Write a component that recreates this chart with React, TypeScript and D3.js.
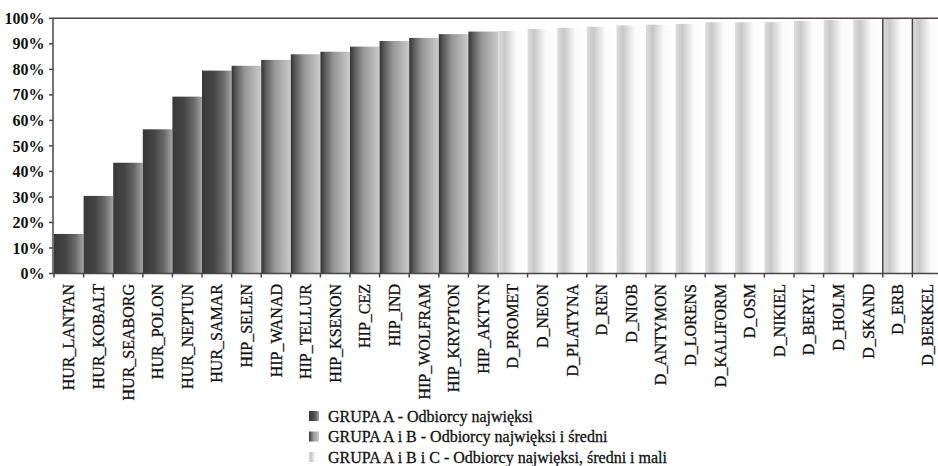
import React from 'react';
import * as d3 from 'd3';

const categories = [
  'HUR_LANTAN', 'HUR_KOBALT', 'HUR_SEABORG', 'HUR_POLON', 'HUR_NEPTUN', 'HUR_SAMAR',
  'HIP_SELEN', 'HIP_WANAD', 'HIP_TELLUR', 'HIP_KSENON', 'HIP_CEZ', 'HIP_IND',
  'HIP_WOLFRAM', 'HIP_KRYPTON', 'HIP_AKTYN',
  'D_PROMET', 'D_NEON', 'D_PLATYNA', 'D_REN', 'D_NIOB', 'D_ANTYMON', 'D_LORENS',
  'D_KALIFORM', 'D_OSM', 'D_NIKIEL', 'D_BERYL', 'D_HOLM', 'D_SKAND', 'D_ERB', 'D_BERKEL',
];

const values = [
  0.155, 0.304, 0.434, 0.565, 0.693, 0.795,
  0.814, 0.837, 0.859, 0.869, 0.889, 0.911,
  0.923, 0.938, 0.948,
  0.950, 0.958, 0.963, 0.967, 0.972, 0.975, 0.978,
  0.984, 0.984, 0.985, 0.990, 0.993, 0.995, 0.998, 1.0,
];

const groups = ['A', 'B', 'C'];
const prefixGroup: Record<string, string> = { HUR: 'A', HIP: 'B', D: 'C' };

const legendLabels = [
  'GRUPA A - Odbiorcy najwięksi',
  'GRUPA A i B - Odbiorcy najwięksi i średni',
  'GRUPA A i B i C - Odbiorcy najwięksi, średni i mali',
];

const yTicks = [0, 0.1, 0.2, 0.3, 0.4, 0.5, 0.6, 0.7, 0.8, 0.9, 1.0];
const dividerCategories = ['D_ERB', 'D_BERKEL'];

const W = 938;
const H = 466;
const AXIS = '#4a4646';

const gradStops: Record<string, [number, string][]> = {
  A: [[0, '#383838'], [0.4, '#454545'], [0.72, '#6a6a6a'], [1, '#a4a4a4']],
  B: [[0, '#333333'], [0.15, '#5a5a5a'], [0.45, '#979797'], [1, '#cbcbcb']],
  C: [[0, '#dedede'], [0.22, '#c8c8c8'], [0.5, '#ececec'], [0.62, '#fbfbfb'], [1, '#ffffff']],
};

export default function App() {
  const x = d3.scaleBand<string>().domain(categories).range([54, 942]).padding(0);
  const y = d3.scaleLinear().domain([0, 1]).range([273.5, 18.3]);
  const fmt = d3.format('.0%');
  const bw = x.bandwidth();
  const groupOf = (c: string) => prefixGroup[c.split('_')[0]];

  return (
    <svg width={W} height={H} style={{ position: 'absolute', left: 0, top: 0, background: '#fff' }}
      fontFamily="'Liberation Serif', 'Times New Roman', serif">
      <defs>
        {groups.map((g) => (
          <linearGradient key={g} id={`grad${g}`} x1="0" y1="0" x2="1" y2="0">
            {gradStops[g].map(([o, c], i) => (
              <stop key={i} offset={o} stopColor={c} />
            ))}
          </linearGradient>
        ))}
      </defs>
      <rect x={0} y={0} width={W} height={H} fill="#fff" />

      {/* bars */}
      {categories.map((c, i) => (
        <rect key={c} x={x(c)} y={y(values[i])} width={bw} height={y(0) - y(values[i])}
          fill={`url(#grad${groupOf(c)})`} />
      ))}

      {/* dividers */}
      {dividerCategories.map((c) => (
        <line key={c} x1={x(c)} x2={x(c)} y1={y(1)} y2={y(0)} stroke={AXIS} strokeWidth={1.5} />
      ))}

      {/* frame top */}
      <line x1={53} x2={W} y1={y(1)} y2={y(1)} stroke={AXIS} strokeWidth={1.5} />
      {/* y axis */}
      <line x1={53} x2={53} y1={y(1)} y2={y(0)} stroke={AXIS} strokeWidth={1.5} />
      {yTicks.map((t) => (
        <g key={t}>
          <line x1={49} x2={53} y1={y(t)} y2={y(t)} stroke={AXIS} strokeWidth={1.5} />
          <text x={44.5} y={y(t)} dy="0.35em" textAnchor="end" fontWeight="bold" fontSize={16} fill="#111">
            {fmt(t)}
          </text>
        </g>
      ))}
      {/* x axis */}
      <line x1={53} x2={W} y1={y(0)} y2={y(0)} stroke={AXIS} strokeWidth={1.5} />
      {categories.map((c) => (
        <line key={c} x1={x(c)} x2={x(c)} y1={y(0)} y2={y(0) + 4} stroke={AXIS} strokeWidth={1.5} />
      ))}
      {categories.map((c) => {
        const cx = (x(c) as number) + bw / 2 + 5.5;
        return (
          <text key={c} transform={`translate(${cx},284) rotate(-90)`} textAnchor="end" fontSize={16}
            fill="#111" stroke="#111" strokeWidth={0.3}>
            {c}
          </text>
        );
      })}

      {/* legend */}
      {legendLabels.map((l, i) => {
        const cy = 416 + i * 20.5;
        return (
          <g key={l}>
            <rect x={309} y={cy - 5} width={10} height={10} fill={`url(#grad${groups[i]})`} />
            <text x={328} y={cy} dy="0.35em" fontSize={16} fill="#111" stroke="#111" strokeWidth={0.3}>{l}</text>
          </g>
        );
      })}
    </svg>
  );
}
